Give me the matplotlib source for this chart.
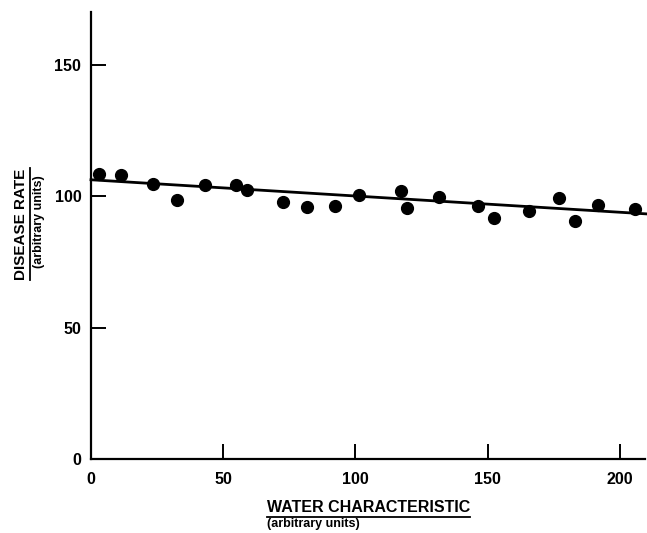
import matplotlib
matplotlib.use("Agg")
import matplotlib.pyplot as plt
from matplotlib.lines import Line2D

# values
water = [3.0, 11.2, 23.6, 32.4, 43.1, 54.7, 58.9, 72.7, 81.8, 92.4, 101.5,
         117.2, 119.4, 131.7, 146.5, 152.5, 165.7, 177.1, 183.1, 191.9, 205.9]
disease = [108.5, 108.1, 104.7, 98.4, 104.3, 104.1, 102.4, 97.7, 95.8, 96.2, 100.5,
           101.8, 95.4, 99.6, 96.1, 91.8, 94.3, 99.4, 90.5, 96.5, 95.2]
fit_x = [0, 212]
fit_y = [106.2, 93.1]
xticks = [0, 50, 100, 150, 200]
yticks = [0, 50, 100, 150]

plt.rcParams['font.family'] = ['Liberation Sans', 'DejaVu Sans']

W, H = 647, 533
fig = plt.figure(figsize=(W / 100, H / 100), dpi=100)
ax = fig.add_axes([91 / W, 74 / H, 554 / W, 447 / H])

ax.plot(fit_x, fit_y, color='black', lw=2.0, clip_on=False)
ax.plot(water, disease, 'o', color='black', ms=8.5)

ax.set_xlim(0, 209.5)
ax.set_ylim(0, 170)
ax.spines['top'].set_visible(False)
ax.spines['right'].set_visible(False)
for s in ('left', 'bottom'):
    ax.spines[s].set_linewidth(1.6)

ax.set_xticks(xticks)
ax.set_yticks(yticks)
ax.tick_params(axis='both', direction='in', length=11, width=1.4,
               labelsize=11.5)
ax.tick_params(axis='x', pad=9)
ax.tick_params(axis='y', pad=7)
for lab in ax.get_xticklabels() + ax.get_yticklabels():
    lab.set_fontweight('bold')

# axis titles with underline
tx = fig.text(267 / W, 1 - 507 / H, 'WATER CHARACTERISTIC', fontsize=11.5,
              fontweight='bold', ha='left', va='center')
fig.text(267 / W, 1 - 524 / H, '(arbitrary units)', fontsize=9,
         fontweight='bold', ha='left', va='center')
ty = fig.text(21 / W, 1 - 224 / H, 'DISEASE RATE', fontsize=11,
              fontweight='bold', rotation=90, ha='center', va='center')
fig.text(39 / W, 1 - 222 / H, '(arbitrary units)', fontsize=9,
         fontweight='bold', rotation=90, ha='center', va='center')

fig.canvas.draw()
r = fig.canvas.get_renderer()
bx = tx.get_window_extent(r)
by = ty.get_window_extent(r)
fig.add_artist(Line2D([bx.x0 / W, bx.x1 / W], [(bx.y0 - 2) / H] * 2,
                      transform=fig.transFigure, color='black', lw=1.3))
fig.add_artist(Line2D([(by.x1 + 2) / W] * 2, [by.y0 / H, by.y1 / H],
                      transform=fig.transFigure, color='black', lw=1.3))

fig.savefig('out.png', dpi=100)
